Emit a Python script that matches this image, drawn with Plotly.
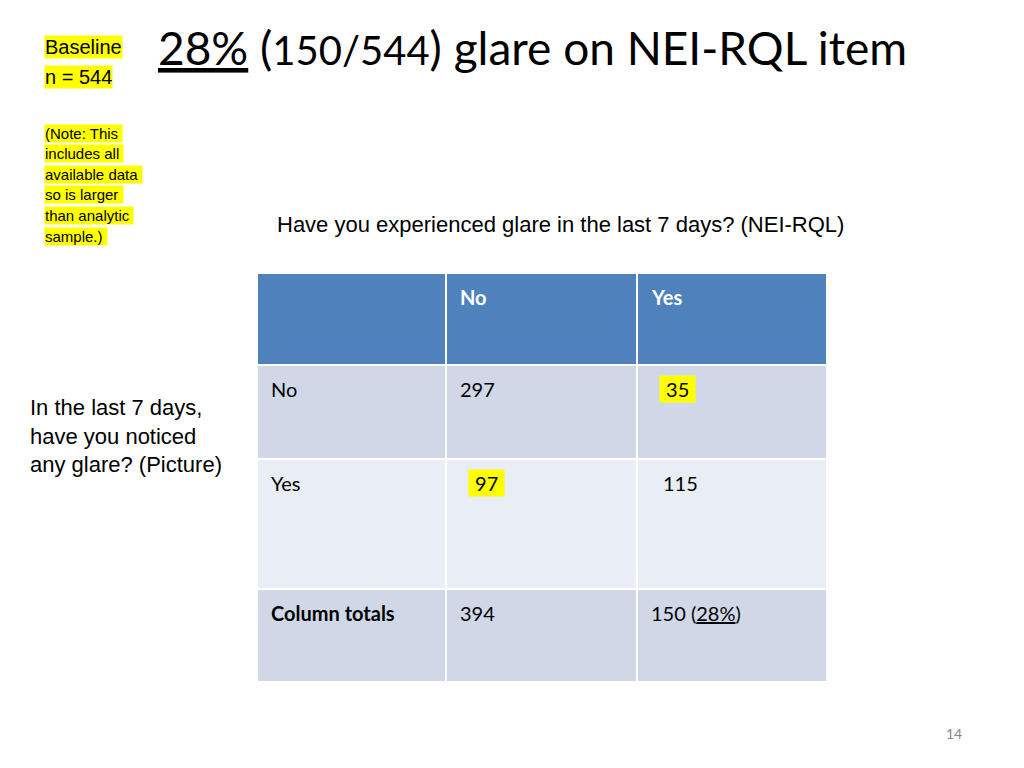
import plotly.graph_objects as go

col_labels = ["", "No", "Yes"]
row_labels = ["No", "Yes", "Column totals"]
counts_no = [297, 97, 394]
counts_yes = [35, 115, 150]
highlight = {(0, 1): True, (1, 0): True}
total_n = 544
pct = round(100 * counts_yes[2] / total_n)

col_x = [257, 446, 637, 827]
row_y = [273, 365, 459, 589, 682]
row_fill = ["#4F81BD", "#D0D8E8", "#E9EDF4", "#D0D8E8"]

fig = go.Figure()
shapes, ann = [], []
for r in range(4):
    for c in range(3):
        shapes.append(dict(type="rect", x0=col_x[c], x1=col_x[c+1], y0=row_y[r], y1=row_y[r+1],
                           fillcolor=row_fill[r], line=dict(color="white", width=2), layer="below"))

F = "Lato"
def cell(txt, c, r, color="black", bold=False, bg=None):
    t = f"<b>{txt}</b>" if bold else txt
    ann.append(dict(x=col_x[c] + 12, y=row_y[r] + 10, text=t, xanchor="left", yanchor="top",
                    showarrow=False, font=dict(family=F, size=20, color=color),
                    bgcolor=bg))

cell(col_labels[1], 1, 0, "white", True)
cell(col_labels[2], 2, 0, "white", True)
for i in range(3):
    cell(row_labels[i], 0, i+1, bold=(i == 2))
vals = [counts_no, counts_yes]
for i in range(2):
    for c in range(2):
        v = vals[c][i]
        if highlight.get((i, c)):
            ann.append(dict(x=col_x[c+1] + 22, y=row_y[i+1] + 10, text=f" {v} ", xanchor="left", yanchor="top",
                            showarrow=False, font=dict(family=F, size=20, color="black"), bgcolor="#FFFF00"))
        elif c == 1 and i == 1:
            ann.append(dict(x=col_x[c+1] + 24, y=row_y[i+1] + 10, text=str(v), xanchor="left", yanchor="top",
                            showarrow=False, font=dict(family=F, size=20, color="black")))
        else:
            cell(str(v), c+1, i+1)
cell(str(counts_no[2]), 1, 3)
cell(f'{counts_yes[2]} (<span style="text-decoration:underline">{pct}%</span>)', 2, 3)

# title
ann.append(dict(x=156, y=47, text=f'<span style="text-decoration:underline">{pct}%</span> (<span style="font-size:40px">{counts_yes[2]}/{total_n}</span>) glare on NEI-RQL item',
                xanchor="left", yanchor="middle", showarrow=False, font=dict(family=F, size=46, color="black")))
for y, t in [(47, "Baseline"), (77, "n = 544")]:
    ann.append(dict(x=44, y=y, text=t, xanchor="left", yanchor="middle", showarrow=False,
                    font=dict(family="Liberation Sans", size=20, color="black"), bgcolor="#FFFF00", borderpad=0))
for i, t in enumerate(["(Note: This ", "includes all ", "available data ", "so is larger ", "than analytic ", "sample.) "]):
    ann.append(dict(x=44, y=133 + i*20.6, text=t, xanchor="left", yanchor="middle", showarrow=False,
                    font=dict(family="Liberation Sans", size=15, color="black"), bgcolor="#FFFF00", borderpad=0))
ann.append(dict(x=275, y=224, text="Have you experienced glare in the last 7 days? (NEI-RQL)", xanchor="left",
                yanchor="middle", showarrow=False, font=dict(family="Liberation Sans", size=22, color="black")))
ann.append(dict(x=28, y=436, text="In the last 7 days,<br>have you noticed<br>any glare? (Picture)", xanchor="left",
                yanchor="middle", align="left", showarrow=False, font=dict(family="Liberation Sans", size=22, color="black")))
ann.append(dict(x=954, y=733, text="14", showarrow=False, font=dict(family=F, size=14, color="#888888")))

fig.update_layout(width=1024, height=768, margin=dict(l=0, r=0, t=0, b=0),
                  paper_bgcolor="white", plot_bgcolor="white", shapes=shapes, annotations=ann,
                  xaxis=dict(range=[8, 1032], visible=False, fixedrange=True),
                  yaxis=dict(range=[776, 8], visible=False, fixedrange=True), showlegend=False)
fig.write_html("out.html")
